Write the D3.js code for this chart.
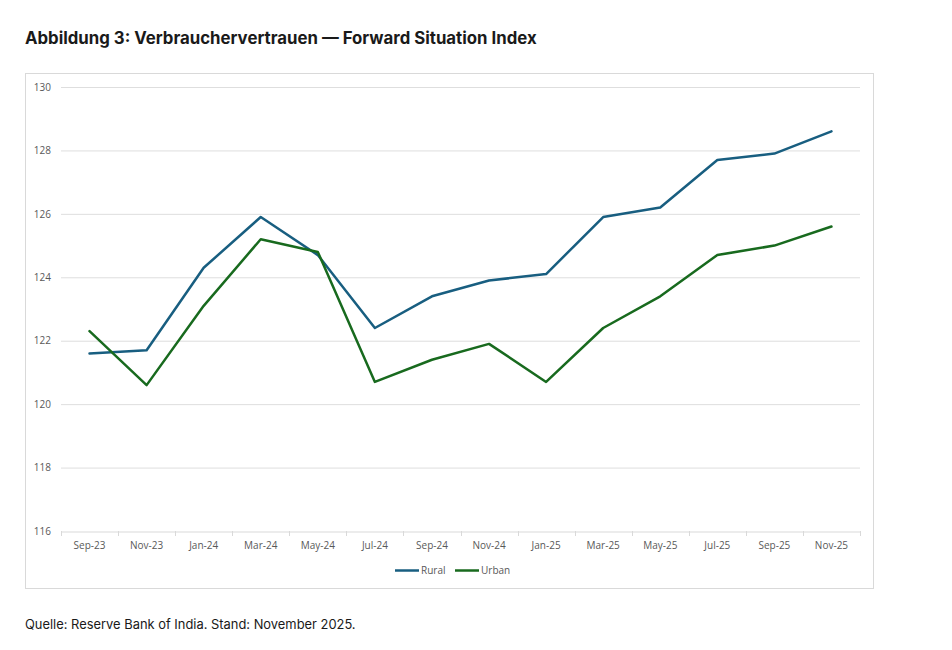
<!DOCTYPE html>
<html><head><meta charset="utf-8">
<script src="https://cdn.jsdelivr.net/npm/d3@7"></script>
<style>
body{margin:0;background:#fff;}
svg{display:block;}
</style></head>
<body>
<svg id="c" width="952" height="650"></svg>
<script>
const categories = ["Sep-23","Nov-23","Jan-24","Mar-24","May-24","Jul-24","Sep-24","Nov-24","Jan-25","Mar-25","May-25","Jul-25","Sep-25","Nov-25"];
const rural = [121.6,121.7,124.3,125.9,124.7,122.4,123.4,123.9,124.1,125.9,126.2,127.7,127.9,128.6];
const urban = [122.3,120.6,123.1,125.2,124.8,120.7,121.4,121.9,120.7,122.4,123.4,124.7,125.0,125.6];
const yTicks = [116,118,120,122,124,126,128,130];
const seriesNames = ["Rural","Urban"];
const seriesColors = ["#185e80","#186a1e"];

const svg = d3.select("#c");
const font = "Inter, 'Open Sans', sans-serif";
const axFont = "'Open Sans', Roboto, sans-serif";

svg.append("text").attr("x",25).attr("y",44).attr("font-family",font)
  .attr("font-size",16.8).attr("font-weight",700).attr("fill","#1a1a1a")
  .text("Abbildung 3: Verbrauchervertrauen — Forward Situation Index");

svg.append("rect").attr("x",25.5).attr("y",73.5).attr("width",848).attr("height",515)
  .attr("fill","none").attr("stroke","#d9d9d9");

const x = d3.scaleBand().domain(categories).range([61,860]);
const y = d3.scaleLinear().domain([116,130]).range([531,87]);

const grid = svg.append("g");
grid.selectAll("line").data(yTicks.filter(d=>d!==116)).join("line")
  .attr("x1",61).attr("x2",860).attr("y1",d=>y(d)+0.5).attr("y2",d=>y(d)+0.5)
  .attr("stroke","#dedede").attr("stroke-width",1);

const yAxis = svg.append("g").attr("transform","translate(61,0)")
  .call(d3.axisLeft(y).tickValues(yTicks).tickSize(0).tickPadding(10).tickFormat(d3.format("d")));
yAxis.select(".domain").remove();
yAxis.selectAll("text").attr("font-family",axFont).attr("font-size",10).attr("fill","#595959");

const xAxis = svg.append("g").attr("transform","translate(0,531.5)")
  .call(d3.axisBottom(x).tickSize(0).tickPadding(10));
xAxis.select(".domain").attr("stroke","#d9d9d9");
xAxis.selectAll("text").attr("font-family",axFont).attr("font-size",10).attr("fill","#595959");
// boundary tick marks
const bounds = categories.map(c=>x(c)).concat([x(categories[categories.length-1])+x.bandwidth()]);
svg.append("g").selectAll("line").data(bounds).join("line")
  .attr("x1",d=>Math.round(d)+0.5).attr("x2",d=>Math.round(d)+0.5).attr("y1",531).attr("y2",536)
  .attr("stroke","#d9d9d9");

const line = d3.line().x((d,i)=>x(categories[i])+x.bandwidth()/2).y(d=>y(d));
[rural,urban].forEach((s,i)=>{
  svg.append("path").datum(s).attr("d",line).attr("fill","none")
    .attr("stroke",seriesColors[i]).attr("stroke-width",2.5)
    .attr("stroke-linejoin","round").attr("stroke-linecap","round");
});

// legend
const lg = svg.append("g");
const lx = [395,455];
seriesNames.forEach((n,i)=>{
  lg.append("line").attr("x1",lx[i]).attr("x2",lx[i]+24).attr("y1",570.5).attr("y2",570.5)
    .attr("stroke",seriesColors[i]).attr("stroke-width",2.5);
  lg.append("text").attr("x",lx[i]+26).attr("y",574).attr("font-family",axFont)
    .attr("font-size",10).attr("fill","#595959").text(n);
});

svg.append("text").attr("x",25).attr("y",629).attr("font-family",font)
  .attr("font-size",12.9).attr("fill","#1a1a1a")
  .text("Quelle: Reserve Bank of India. Stand: November 2025.");
</script>
</body></html>
